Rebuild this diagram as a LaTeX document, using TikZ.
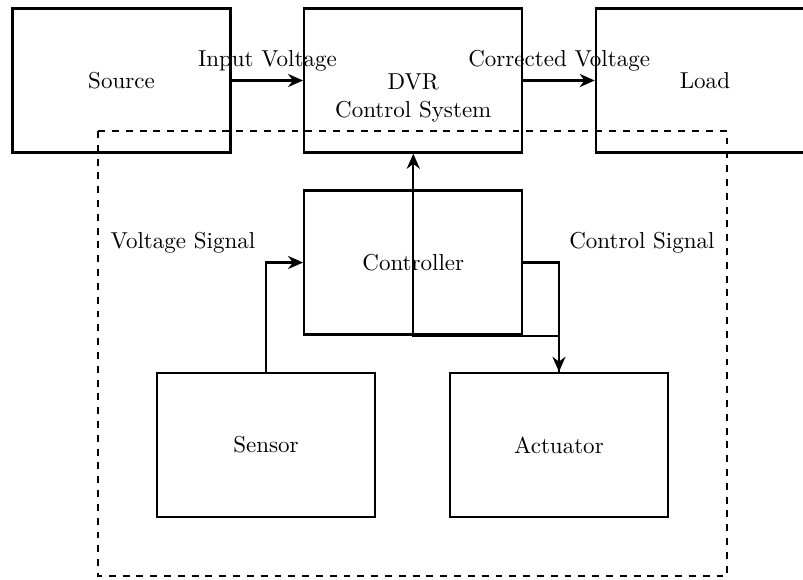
\documentclass[tikz,border=0pt]{standalone}
\usepackage{tikz}
\usetikzlibrary{arrows.meta, positioning, calc}

\tikzset{
  block/.style={draw, line width=1pt, minimum width=3.33cm, minimum height=2.2cm, align=center},
  arr/.style={line width=1pt, -{Stealth[length=2.3mm, width=2mm]}},
  sigtext/.style={align=center}
}

\begin{document}
\begin{tikzpicture}
  \useasboundingbox (0,0) rectangle (12.26,-8.855);

  % top chain
  \node[block] (source) at (1.855,-1.229) {Source};
  \node[block, label={[yshift=-0.27cm, align=center]center:{DVR\\Control System}}] (dvr) at (6.31,-1.229) {};
  \node[block] (load) at (10.763,-1.229) {Load};

  % inner blocks
  \node[block] (controller) at (6.31,-4.008) {Controller};
  \node[block] (sensor) at (4.061,-6.794) {Sensor};
  \node[block] (actuator) at (8.534,-6.794) {Actuator};

  % dashed frame
  \draw[line width=1pt, dashed] (1.496,-2.0) rectangle (11.099,-8.794);

  \node[sigtext] (vsig) at (2.794,-3.71) {Voltage Signal};
  \node[sigtext] (csig) at (9.80,-3.71) {Control Signal};

  \draw[arr] (source) -- node[above] {Input Voltage} (dvr);
  \draw[arr] (dvr) -- node[above] {Corrected Voltage} (load);
  \draw[arr] (sensor.north) |- (controller.west);
  \draw[arr] (controller.east) -| (actuator.north);
  \draw[arr] (actuator.north) |- (controller.south) -- (dvr.south);
\end{tikzpicture}
\end{document}
